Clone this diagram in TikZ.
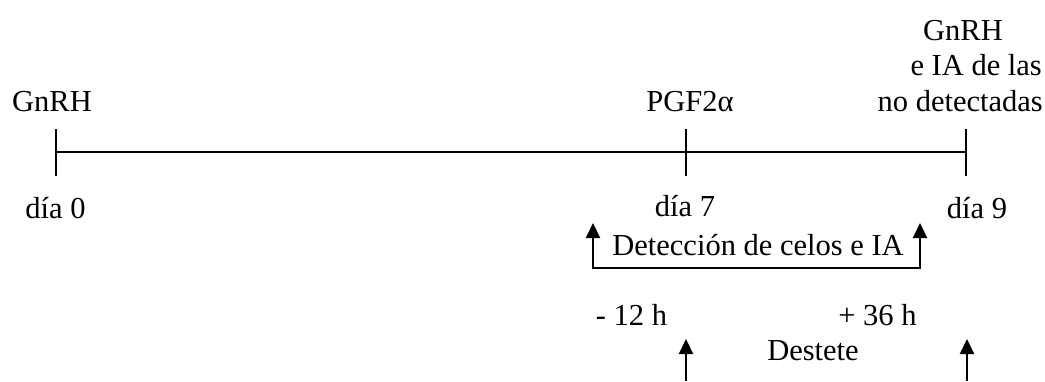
\documentclass[tikz,border=0pt]{standalone}
\usepackage{fontspec}
\setmainfont{Liberation Serif}
\usetikzlibrary{arrows.meta}
\begin{document}
\begin{tikzpicture}[x=1pt,y=-1pt,
  lbl/.style={inner sep=0pt, anchor=base, font=\fontsize{30.5}{36}\selectfont},
  lblr/.style={lbl, anchor=base east},
  axis/.style={line width=2.2pt},
  up/.style={line width=2.2pt, -{Triangle[width=14pt,length=15pt]}}]
\useasboundingbox (0,0) rectangle (1045,381);

% time axis with its three day marks
\coordinate (t0) at (56,152);
\coordinate (t7) at (686,152);
\coordinate (t9) at (966,152);
\draw[axis] (t0) -- (t9);
\foreach \p in {t0,t7,t9}
  \draw[axis] ([yshift=-24pt]\p) -- ([yshift=23pt]\p);

% treatments above the axis
\node[lbl] (gnrh0) at (52,111) {GnRH};
\node[lbl] (pgf) at (690,111) {PGF2α};
\node[lbl] (gnrh9) at (963,40) {GnRH};
\node[lblr] (ia9a) at (1042,75) {e IA de las};
\node[lblr] (ia9b) at (1043,111) {no detectadas};

% days below the axis
\node[lbl] (d0) at (55.5,218) {día 0};
\node[lbl] (d7) at (685,216) {día 7};
\node[lbl] (d9) at (977,218) {día 9};

% heat detection window
\coordinate (dl) at (593,223);
\coordinate (dr) at (920,223);
\coordinate (dlb) at (593,268);
\coordinate (drb) at (920,268);
\draw[line width=2.2pt, {Triangle[width=14pt,length=15pt]}-{Triangle[width=14pt,length=15pt]}]
  (dl) -- (dlb) -- (drb) -- (dr);
\node[lbl] (det) at (758,255) {Detección de celos e IA};

% weaning
\node[lbl] (m12) at (631.5,325) {- 12 h};
\node[lbl] (p36) at (877.5,325) {+ 36 h};
\node[lbl] (dest) at (813,360) {Destete};
\coordinate (a1b) at (686,381);
\coordinate (a1t) at (686,339);
\coordinate (a2b) at (967,381);
\coordinate (a2t) at (967,339);
\draw[up] (a1b) -- (a1t);
\draw[up] (a2b) -- (a2t);
\end{tikzpicture}
\end{document}
